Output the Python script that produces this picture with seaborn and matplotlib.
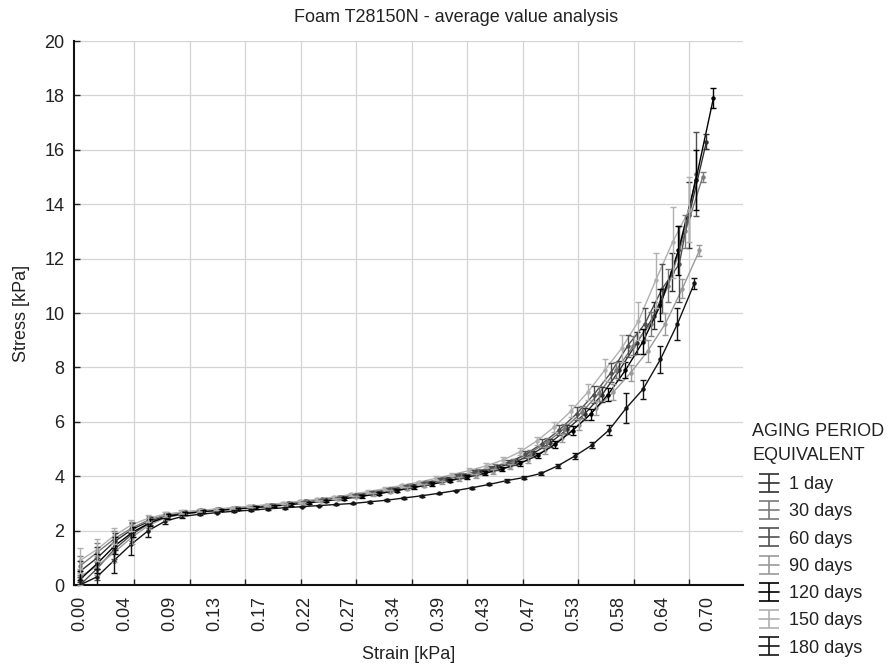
import numpy as np
import pandas as pd
import matplotlib
matplotlib.use("Agg")
import matplotlib.pyplot as plt
import seaborn as sns
from matplotlib.container import ErrorbarContainer
from matplotlib.legend_handler import HandlerErrorbar

# ---------------- data ----------------
periods = ["1 day", "30 days", "60 days", "90 days", "120 days", "150 days", "180 days"]
colors = ["#303030", "#7a7a7a", "#505050", "#9a9a9a", "#000000", "#b0b0b0", "#141414"]

strain_labels = ["0.00", "0.04", "0.09", "0.13", "0.17", "0.22", "0.27", "0.34",
                 "0.39", "0.43", "0.47", "0.53", "0.58", "0.64", "0.70"]

# sample positions along the strain axis (in tick-label units)
strain_pos = [0.00, 0.39, 0.78, 1.18, 1.57, 1.96, 2.35, 2.75, 3.14, 3.53, 3.92, 4.32,
              4.71, 5.10, 5.49, 5.88, 6.28, 6.67, 7.06, 7.45, 7.85, 8.24, 8.63, 9.02,
              9.41, 9.81, 10.20, 10.59, 10.98, 11.38, 11.77, 12.16, 12.55, 12.94,
              13.34, 13.73, 14.12]

# each specimen group reaches a slightly different final strain
strain_scale = {"1 day": 0.989, "30 days": 0.983, "60 days": 0.973, "90 days": 0.978,
                "120 days": 1.000, "150 days": 0.962, "180 days": 0.970}

stress = {
    "1 day": [0.5, 1.0, 1.6, 2.05, 2.35, 2.55, 2.66, 2.73, 2.78, 2.83, 2.88, 2.94, 3.0,
              3.07, 3.14, 3.22, 3.31, 3.41, 3.52, 3.64, 3.76, 3.89, 4.02, 4.16, 4.32,
              4.52, 4.82, 5.22, 5.72, 6.3, 7.0, 7.9, 8.9, 9.9, 11.5, 13.6, 16.3],
    "30 days": [0.7, 1.2, 1.7, 2.1, 2.4, 2.58, 2.68, 2.74, 2.79, 2.84, 2.89, 2.95, 3.01,
                3.08, 3.15, 3.23, 3.32, 3.42, 3.53, 3.65, 3.77, 3.9, 4.04, 4.18, 4.35,
                4.55, 4.85, 5.25, 5.75, 6.35, 7.05, 7.9, 8.8, 9.6, 11.0, 13.0, 15.0],
    "60 days": [0.0, 0.6, 1.3, 1.85, 2.25, 2.5, 2.62, 2.7, 2.76, 2.81, 2.86, 2.92, 2.98,
                3.05, 3.12, 3.2, 3.29, 3.39, 3.5, 3.62, 3.74, 3.87, 4.0, 4.14, 4.3,
                4.5, 4.8, 5.2, 5.7, 6.3, 7.0, 7.8, 8.8, 9.6, 10.9, 11.8, 15.1],
    "90 days": [0.3, 0.7, 1.2, 1.75, 2.2, 2.48, 2.6, 2.68, 2.74, 2.79, 2.84, 2.9, 2.96,
                3.02, 3.09, 3.16, 3.24, 3.33, 3.43, 3.54, 3.65, 3.77, 3.89, 4.02, 4.17,
                4.35, 4.6, 4.95, 5.4, 5.9, 6.5, 7.1, 7.8, 8.6, 9.6, 10.9, 12.3],
    "120 days": [0.2, 0.8, 1.45, 1.95, 2.3, 2.52, 2.63, 2.7, 2.75, 2.8, 2.85, 2.9, 2.96,
                 3.02, 3.09, 3.17, 3.26, 3.36, 3.47, 3.59, 3.71, 3.84, 3.97, 4.11, 4.27,
                 4.47, 4.77, 5.17, 5.68, 6.28, 7.0, 7.9, 8.95, 10.3, 12.3, 14.9, 17.9],
    "150 days": [0.9, 1.3, 1.8, 2.2, 2.45, 2.6, 2.68, 2.74, 2.79, 2.84, 2.89, 2.95, 3.01,
                 3.08, 3.15, 3.23, 3.33, 3.43, 3.54, 3.66, 3.78, 3.92, 4.06, 4.21, 4.38,
                 4.6, 4.9, 5.3, 5.8, 6.4, 7.1, 7.9, 8.7, 9.7, 11.2, 12.6, 13.8],
    "180 days": [0.0, 0.3, 0.9, 1.5, 2.0, 2.35, 2.52, 2.6, 2.66, 2.71, 2.75, 2.8, 2.84,
                 2.88, 2.92, 2.96, 3.0, 3.06, 3.12, 3.2, 3.28, 3.37, 3.47, 3.58, 3.7,
                 3.84, 3.95, 4.1, 4.38, 4.75, 5.15, 5.7, 6.5, 7.2, 8.3, 9.6, 11.1],
}

stress_err = {
    "1 day": [0.4, 0.4, 0.3, 0.22, 0.15, 0.1, 0.06, 0.05, 0.04, 0.04, 0.04, 0.04, 0.04,
              0.05, 0.05, 0.05, 0.05, 0.05, 0.06, 0.06, 0.06, 0.07, 0.07, 0.08, 0.09,
              0.1, 0.12, 0.15, 0.18, 0.22, 0.28, 0.35, 0.4, 0.5, 0.7, 1.2, 0.28],
    "30 days": [0.35, 0.35, 0.3, 0.2, 0.14, 0.09, 0.06, 0.05, 0.04, 0.04, 0.04, 0.04, 0.04,
                0.05, 0.05, 0.05, 0.05, 0.05, 0.06, 0.06, 0.06, 0.07, 0.07, 0.08, 0.09,
                0.1, 0.12, 0.15, 0.18, 0.22, 0.28, 0.3, 0.35, 0.45, 0.6, 0.6, 0.2],
    "60 days": [0.3, 0.4, 0.35, 0.25, 0.15, 0.1, 0.06, 0.05, 0.04, 0.04, 0.04, 0.04, 0.04,
                0.05, 0.05, 0.05, 0.05, 0.05, 0.06, 0.06, 0.06, 0.07, 0.07, 0.08, 0.09,
                0.1, 0.12, 0.15, 0.2, 0.25, 0.3, 0.35, 0.4, 0.6, 0.9, 1.4, 1.55],
    "90 days": [0.3, 0.35, 0.35, 0.25, 0.15, 0.1, 0.06, 0.05, 0.04, 0.04, 0.04, 0.04, 0.04,
                0.04, 0.05, 0.05, 0.05, 0.05, 0.05, 0.06, 0.06, 0.06, 0.07, 0.07, 0.08,
                0.09, 0.1, 0.12, 0.15, 0.2, 0.25, 0.3, 0.3, 0.4, 0.4, 0.35, 0.2],
    "120 days": [0.3, 0.35, 0.3, 0.2, 0.12, 0.08, 0.05, 0.04, 0.04, 0.04, 0.04, 0.04, 0.04,
                 0.04, 0.04, 0.05, 0.05, 0.05, 0.05, 0.05, 0.06, 0.06, 0.06, 0.07, 0.08,
                 0.09, 0.1, 0.12, 0.15, 0.2, 0.25, 0.3, 0.45, 0.6, 0.9, 1.1, 0.37],
    "150 days": [0.45, 0.4, 0.3, 0.2, 0.14, 0.09, 0.06, 0.05, 0.04, 0.04, 0.04, 0.04, 0.04,
                 0.05, 0.05, 0.05, 0.05, 0.05, 0.06, 0.06, 0.06, 0.07, 0.07, 0.08, 0.09,
                 0.1, 0.12, 0.15, 0.18, 0.22, 0.3, 0.4, 0.5, 0.7, 1.0, 1.3, 1.2],
    "180 days": [0.2, 0.3, 0.45, 0.4, 0.25, 0.12, 0.06, 0.04, 0.03, 0.03, 0.03, 0.03, 0.03,
                 0.03, 0.03, 0.03, 0.03, 0.03, 0.03, 0.03, 0.03, 0.03, 0.03, 0.04, 0.04,
                 0.04, 0.05, 0.06, 0.08, 0.1, 0.12, 0.2, 0.55, 0.35, 0.5, 0.6, 0.2],
}

# ---------------- figure ----------------
sns.set_theme(style="white")
plt.rcParams["font.family"] = ["Liberation Sans", "DejaVu Sans"]
plt.rcParams["font.size"] = 13

rows = []
for p in periods:
    for xp, s in zip(strain_pos, stress[p]):
        rows.append({"pos": xp * strain_scale[p], "stress": s, "period": p})
df = pd.DataFrame(rows)

fig = plt.figure(figsize=(8.96, 6.70), dpi=100)
ax = fig.add_axes([74 / 896, 1 - 585 / 670, (743 - 74) / 896, (585 - 41) / 670])

palette = dict(zip(periods, colors))
sns.lineplot(data=df, x="pos", y="stress", hue="period", palette=palette,
             estimator=None, sort=False, legend=False, marker="o", markersize=3.2,
             markeredgewidth=0, linewidth=1.0, ax=ax, zorder=3)

for p, c in zip(periods, colors):
    xs = [xp * strain_scale[p] for xp in strain_pos]
    ax.errorbar(xs, stress[p], yerr=stress_err[p], fmt="none", ecolor=c,
                elinewidth=1.0, capsize=2.5, capthick=1.0, zorder=3)

# axes scales
px_per_unit = 44.86
ax.set_xlim((74 - 80) / px_per_unit, (743 - 80) / px_per_unit)
ax.set_ylim(0, 20)
grid_pos = [(134 - 80) / px_per_unit + k * 55.5 / px_per_unit for k in range(11)]
ax.set_xticks(grid_pos)
ax.set_xticklabels([])
ax.set_xticks(list(range(len(strain_labels))), strain_labels, minor=True)
ax.tick_params(axis="x", which="minor", length=0, pad=8, labelrotation=90,
               labelsize=13, colors="#222222")
ax.tick_params(axis="x", which="major", direction="in", length=4, width=1,
               color="#222222", bottom=True)
ax.set_yticks(range(0, 21, 2))
ax.tick_params(axis="y", which="major", direction="in", length=4, width=1,
               color="#222222", left=True, labelsize=13, pad=7, labelcolor="#222222")
ax.grid(True, which="major", color="#d4d4d4", linewidth=0.9, zorder=0)
ax.set_axisbelow(True)

for side in ["top", "right"]:
    ax.spines[side].set_visible(False)
for side in ["left", "bottom"]:
    ax.spines[side].set_color("#111111")
    ax.spines[side].set_linewidth(1.5)

ax.set_xlabel("Strain [kPa]", fontsize=13, color="#222222")
ax.set_ylabel("Stress [kPa]", fontsize=13, color="#222222")
ax.xaxis.set_label_coords(0.5, -0.112)
ax.yaxis.set_label_coords(-0.066, 0.5)

fig.text(456 / 896, 1 - 18 / 670, "Foam T28150N - average value analysis",
         ha="center", va="center", fontsize=13, color="#222222")

# legend title as two left-aligned lines
fig.text(752 / 896, 1 - 432 / 670, "AGING PERIOD", ha="left", va="center",
         fontsize=13, color="#222222")
fig.text(752 / 896, 1 - 455 / 670, "EQUIVALENT", ha="left", va="center",
         fontsize=13, color="#222222")

# legend with error-bar glyphs
handles = []
for c in colors:
    h = ax.errorbar([np.nan], [np.nan], yerr=[np.nan], fmt="-", color=c, ecolor=c,
                    lw=1.2, elinewidth=1.2, capsize=7, capthick=1.2)
    handles.append(h)
leg = fig.legend(handles, periods, loc="upper left",
                 bbox_to_anchor=(759 / 896, 1 - 476 / 670),
                 frameon=False, fontsize=13, handlelength=1.1, handletextpad=0.55,
                 labelspacing=0.57, borderpad=0.0, borderaxespad=0.0,
                 handler_map={ErrorbarContainer: HandlerErrorbar(xerr_size=0.5)})
for t in leg.get_texts():
    t.set_color("#222222")

fig.savefig("out.png", dpi=100)
